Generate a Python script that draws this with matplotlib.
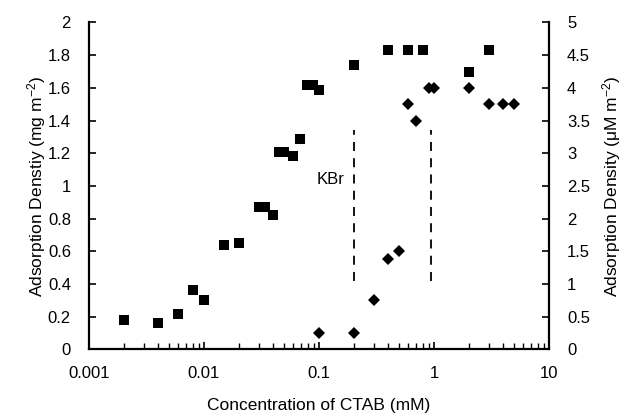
import matplotlib
matplotlib.use("Agg")
import matplotlib.pyplot as plt
from matplotlib.ticker import LogLocator, FixedLocator, FixedFormatter, NullFormatter

plt.rcParams['font.family'] = ['Liberation Sans', 'DejaVu Sans']
plt.rcParams['mathtext.fontset'] = 'custom'
plt.rcParams['mathtext.rm'] = 'Liberation Sans'
plt.rcParams['mathtext.it'] = 'Liberation Sans:italic'

# CTAB alone, left axis (mg m^-2)
sq_conc = [0.002, 0.004, 0.006, 0.008, 0.01, 0.015, 0.02, 0.03, 0.034, 0.04,
           0.045, 0.05, 0.059, 0.068, 0.078, 0.089, 0.1, 0.2, 0.4, 0.6, 0.8, 2, 3]
sq_ads = [0.18, 0.16, 0.22, 0.365, 0.30, 0.64, 0.65, 0.87, 0.87, 0.825,
          1.21, 1.21, 1.185, 1.285, 1.62, 1.62, 1.59, 1.74, 1.83, 1.83, 1.83, 1.70, 1.83]

# with KBr, right axis (uM m^-2)
dm_conc = [0.1, 0.2, 0.3, 0.4, 0.5, 0.59, 0.7, 0.9, 1.0, 2, 3, 4, 5]
dm_ads = [0.25, 0.25, 0.75, 1.38, 1.5, 3.75, 3.5, 4.0, 4.0, 4.0, 3.75, 3.75, 3.75]

dash_x = [0.2, 0.95]
dash_y = [0.42, 1.34]

left_ticks = [0, 0.2, 0.4, 0.6, 0.8, 1, 1.2, 1.4, 1.6, 1.8, 2]
left_labels = ['0', '0.2', '0.4', '0.6', '0.8', '1', '1.2', '1.4', '1.6', '1.8', '2']
right_ticks = [0, 0.5, 1, 1.5, 2, 2.5, 3, 3.5, 4, 4.5, 5]
right_labels = ['0', '0.5', '1', '1.5', '2', '2.5', '3', '3.5', '4', '4.5', '5']
x_ticks = [0.001, 0.01, 0.1, 1, 10]
x_labels = ['0.001', '0.01', '0.1', '1', '10']

fig = plt.figure(figsize=(6.24, 4.18), dpi=100)
ax = fig.add_axes([0.1426, 0.1639, 0.7372, 0.7823])
ax2 = ax.twinx()

ax.plot(sq_conc, sq_ads, 's', color='black', ms=7, mew=0)
ax2.plot(dm_conc, dm_ads, 'D', color='black', ms=6.3, mew=0)

for xv in dash_x:
    ax.plot([xv, xv], dash_y, '--', color='black', lw=1.3, dashes=(5, 4))
ax.text(0.167, 1.04, 'KBr', ha='right', va='center', fontsize=12)

ax.set_xscale('log')
ax.set_xlim(0.001, 10)
ax.set_ylim(0, 2)
ax2.set_ylim(0, 5)

ax.xaxis.set_major_locator(FixedLocator(x_ticks))
ax.xaxis.set_major_formatter(FixedFormatter(x_labels))
ax.xaxis.set_minor_locator(LogLocator(base=10, subs=range(2, 10)))
ax.xaxis.set_minor_formatter(NullFormatter())
ax.yaxis.set_major_locator(FixedLocator(left_ticks))
ax.yaxis.set_major_formatter(FixedFormatter(left_labels))
ax2.yaxis.set_major_locator(FixedLocator(right_ticks))
ax2.yaxis.set_major_formatter(FixedFormatter(right_labels))

for a in (ax, ax2):
    a.spines['top'].set_visible(False)
    for s in a.spines.values():
        s.set_linewidth(1.6)
ax.spines['right'].set_visible(False)
ax2.spines['left'].set_visible(False)
ax2.spines['bottom'].set_visible(False)

ax.tick_params(axis='x', which='major', direction='in', length=5, width=1.2, pad=12, labelsize=12)
ax.tick_params(axis='x', which='minor', direction='in', length=4, width=1.0)
ax.tick_params(axis='y', direction='in', length=5, width=1.2, pad=13, labelsize=12)
ax2.tick_params(axis='y', direction='in', length=5, width=1.2, pad=13, labelsize=12)

ax.set_xlabel('Concentration of CTAB (mM)', fontsize=12.5, labelpad=12)
ax.set_ylabel('Adsorption Denstiy (mg m$^{-2}$)', fontsize=12.5, labelpad=0)
ax2.set_ylabel('Adsorption Density (\u03bcM m$^{-2}$)', fontsize=12.5, labelpad=7)

fig.savefig('out.png', dpi=100)
